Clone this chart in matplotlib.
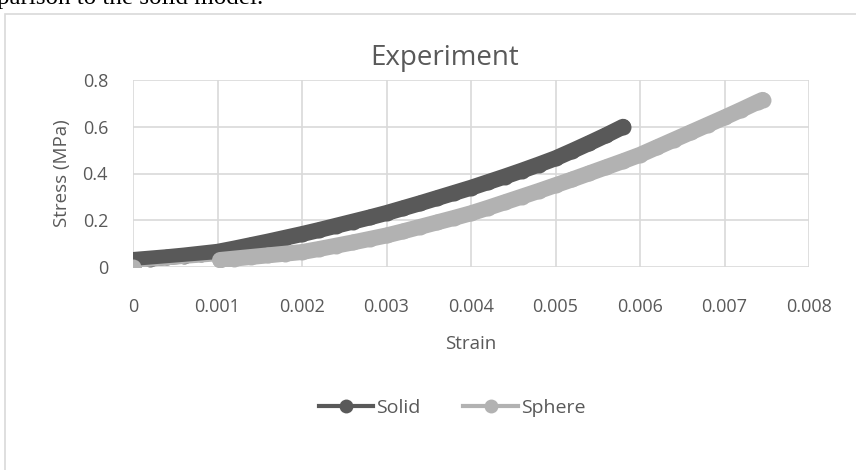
import matplotlib.pyplot as plt
from matplotlib.lines import Line2D
from matplotlib.patches import Rectangle

# === Data ===
solid_strain = [0.0, 0.0, 0.0002, 0.0004, 0.0006, 0.0008, 0.0010, 0.0012, 0.0014, 0.0016,
                0.0018, 0.0020, 0.0022, 0.0024, 0.0026, 0.0028, 0.0030, 0.0032, 0.0034,
                0.0036, 0.0038, 0.0040, 0.0042, 0.0044, 0.0046, 0.0048, 0.0050, 0.0052,
                0.0054, 0.0056, 0.0058]
solid_stress = [0.0, 0.030, 0.036, 0.042, 0.049, 0.057, 0.065, 0.079, 0.094, 0.109,
                0.125, 0.141, 0.158, 0.176, 0.194, 0.212, 0.231, 0.252, 0.273,
                0.295, 0.317, 0.339, 0.363, 0.387, 0.412, 0.438, 0.465, 0.497,
                0.530, 0.564, 0.600]

sphere_strain = [0.0, 0.00103, 0.0012, 0.0014, 0.0016, 0.0018, 0.0020, 0.0022, 0.0024,
                 0.0026, 0.0028, 0.0030, 0.0032, 0.0034, 0.0036, 0.0038, 0.0040, 0.0042,
                 0.0044, 0.0046, 0.0048, 0.0050, 0.0052, 0.0054, 0.0056, 0.0058, 0.0060,
                 0.0062, 0.0064, 0.0066, 0.0068, 0.0070, 0.0072, 0.0074, 0.00745]
sphere_stress = [0.0, 0.030, 0.036, 0.043, 0.050, 0.057, 0.064, 0.077, 0.091,
                 0.105, 0.120, 0.135, 0.153, 0.172, 0.191, 0.210, 0.230, 0.253,
                 0.277, 0.301, 0.325, 0.350, 0.375, 0.401, 0.427, 0.453, 0.480,
                 0.512, 0.544, 0.576, 0.608, 0.640, 0.673, 0.707, 0.715]

x_ticks = [0, 0.001, 0.002, 0.003, 0.004, 0.005, 0.006, 0.007, 0.008]
x_labels = ["0", "0.001", "0.002", "0.003", "0.004", "0.005", "0.006", "0.007", "0.008"]
y_ticks = [0, 0.2, 0.4, 0.6, 0.8]
y_labels = ["0", "0.2", "0.4", "0.6", "0.8"]

dark = "#595959"
light = "#b2b2b2"
grid = "#d9d9d9"
txt = "#595959"

plt.rcParams['font.family'] = ['Open Sans', 'DejaVu Sans']

fig = plt.figure(figsize=(8.56, 4.70), dpi=100)
W, H = 856, 470

# page text cut off at the top (as in the source screenshot)
fig.text(-0.004, 1 - 4 / H, "parison to the solid model.", family="Liberation Serif",
         fontsize=18, color="black", va="baseline", ha="left")

# chart border (runs off right and bottom)
fig.patches.append(Rectangle((5 / W, -0.1), 1.2, 1 - 14 / H + 0.1, transform=fig.transFigure,
                             fill=False, edgecolor=grid, linewidth=1.2))

ax = fig.add_axes([133 / W, 1 - 267 / H, (809 - 133) / W, (267 - 80) / H])

lw = 11.5
ax.plot(solid_strain, solid_stress, color=dark, lw=lw, marker="o", ms=lw, mew=0,
        solid_capstyle="round", solid_joinstyle="round", zorder=3)
ax.plot(sphere_strain[:2], sphere_stress[:2], color=light, lw=1.5, zorder=4)
ax.plot(sphere_strain[1:], sphere_stress[1:], color=light, lw=lw, marker="o", ms=lw, mew=0,
        solid_capstyle="round", solid_joinstyle="round", zorder=4)
ax.plot(sphere_strain[:1], sphere_stress[:1], color=light, marker="o", ms=lw, mew=0,
        ls="none", zorder=5)

ax.set_xlim(0, 0.008)
ax.set_ylim(0, 0.8)
ax.set_xticks(x_ticks)
ax.set_xticklabels(x_labels)
ax.set_yticks(y_ticks)
ax.set_yticklabels(y_labels)
ax.grid(True, color=grid, lw=1.2)
ax.set_axisbelow(True)
for s in ax.spines.values():
    s.set_visible(False)
ax.tick_params(axis="x", length=0, labelsize=13, colors=txt, pad=22)
ax.tick_params(axis="y", length=0, labelsize=13, colors=txt, pad=18)
ax.set_xlabel("Strain", fontsize=13.5, color=txt, labelpad=14)
ax.set_ylabel("Stress (MPa)", fontsize=13.5, color=txt, labelpad=8)

fig.text(445 / W, 1 - 58 / H, "Experiment", fontsize=20, color=txt,
         ha="center", va="center")

handles = [Line2D([], [], color=dark, lw=3, marker="o", ms=10, mew=0),
           Line2D([], [], color=light, lw=3, marker="o", ms=10, mew=0)]
fig.legend(handles, ["Solid", "Sphere"], loc="center", bbox_to_anchor=(452 / W, 1 - 408 / H),
           ncol=2, frameon=False, fontsize=14, labelcolor=txt, handlelength=2.8,
           handletextpad=0.15, columnspacing=2.2)

fig.savefig("out.png", dpi=100)
